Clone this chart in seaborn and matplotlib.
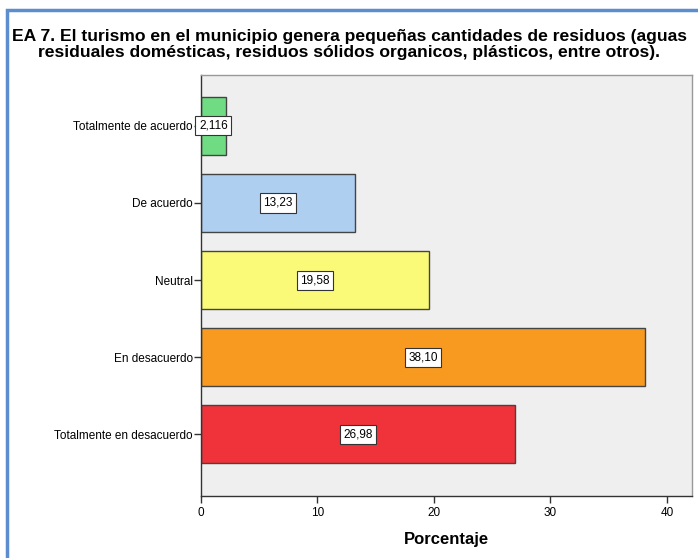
import pandas as pd
import matplotlib.pyplot as plt
import seaborn as sns
from matplotlib.patches import Rectangle

categorias = ['Totalmente de acuerdo', 'De acuerdo', 'Neutral', 'En desacuerdo', 'Totalmente en desacuerdo']
porcentajes = [2.116, 13.23, 19.58, 38.10, 26.98]
etiquetas = ['2,116', '13,23', '19,58', '38,10', '26,98']
colores = ['#6fdc84', '#aecff0', '#fafa78', '#f89a20', '#f0323a']
titulo = ['EA 7. El turismo en el municipio genera pequeñas cantidades de residuos (aguas',
          'residuales domésticas, residuos sólidos organicos, plásticos, entre otros).']

df = pd.DataFrame({'Categoria': categorias, 'Porcentaje': porcentajes})

sns.set_theme(style="white")
plt.rcParams['font.family'] = ['Liberation Sans', 'DejaVu Sans']
plt.rcParams['text.color'] = 'black'
plt.rcParams['xtick.color'] = 'black'
plt.rcParams['ytick.color'] = 'black'
plt.rcParams['axes.labelcolor'] = 'black'

fig = plt.figure(figsize=(6.98, 5.58), dpi=100)
ax = fig.add_axes([201 / 698, 1 - 496 / 558, (692 - 201) / 698, (496 - 75) / 558])

sns.barplot(data=df, x='Porcentaje', y='Categoria', hue='Categoria', palette=colores,
            order=categorias, orient='h', width=0.75, edgecolor='#444444', linewidth=1,
            saturation=1, legend=False, ax=ax)

ax.set_facecolor('#efefef')
ax.set_xlim(0, 42.15)
ax.set_ylim(4.8, -0.66)
ax.set_xticks([0, 10, 20, 30, 40])
ax.tick_params(axis='both', which='both', direction='out', length=5, width=1, color='#333333',
               labelsize=8.5, pad=1, left=True, bottom=True)
ax.tick_params(axis='x', pad=3)
ax.set_ylabel('')
ax.set_xlabel('Porcentaje', fontsize=12, fontweight='bold', labelpad=9)

for lado in ['left', 'bottom']:
    ax.spines[lado].set_color('#333333')
    ax.spines[lado].set_linewidth(1)
for lado in ['top', 'right']:
    ax.spines[lado].set_color('#999999')
    ax.spines[lado].set_linewidth(1)

for i, (v, t) in enumerate(zip(porcentajes, etiquetas)):
    ax.text(v / 2, i, t, ha='center', va='center', fontsize=8.5,
            bbox=dict(boxstyle='square,pad=0.3', facecolor='white', edgecolor='#333333', linewidth=0.8))

fig.text(0.5, 1 - 36 / 558, titulo[0], ha='center', va='center', fontsize=12.6, fontweight='bold')
fig.text(0.5, 1 - 52 / 558, titulo[1], ha='center', va='center', fontsize=12.6, fontweight='bold')

# marco azul del documento
fig.patches.append(Rectangle((7.5 / 698, -0.1), 1.2, 1 - 10 / 558 + 0.1, transform=fig.transFigure,
                             fill=False, edgecolor='#5b8dcf', linewidth=2.5))

fig.savefig('out.png', dpi=100)
